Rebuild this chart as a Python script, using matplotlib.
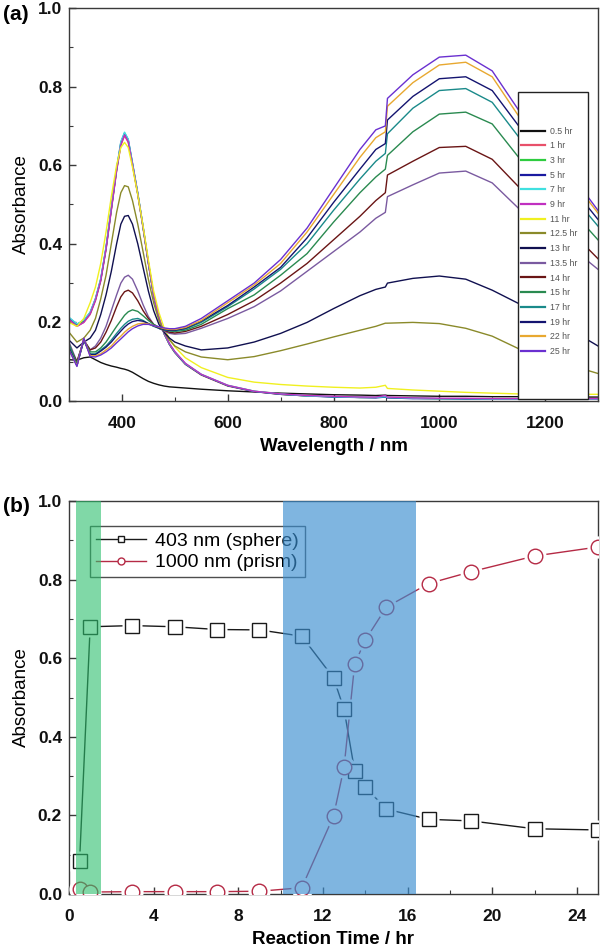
import matplotlib
matplotlib.use("Agg")
import matplotlib.pyplot as plt
from matplotlib.patches import Rectangle
from matplotlib.ticker import MultipleLocator, FormatStrFormatter

plt.rcParams['font.family'] = ['Liberation Sans', 'DejaVu Sans']

# ---------------- Panel (a) data: UV-vis-NIR spectra ----------------
wavelength = [300, 315, 328, 340, 350, 360, 370, 380, 390, 398, 405, 412, 420, 430, 440, 450,
              460, 470, 480, 490, 500, 520, 550, 600, 650, 700, 750, 800, 850, 880, 898, 902,
              950, 1000, 1050, 1100, 1150, 1200, 1250, 1300]

labels_a = ['0.5 hr', '1 hr', '3 hr', '5 hr', '7 hr', '9 hr', '11 hr', '12.5 hr', '13 hr',
            '13.5 hr', '14 hr', '15 hr', '17 hr', '19 hr', '22 hr', '25 hr']
colors_a = ['#111111', '#e8506a', '#2ecc40', '#1a1aa0', '#40e0e0', '#c030c0', '#f0f020',
            '#8a8a2a', '#101050', '#7a5aa0', '#6a1515', '#2a8a50', '#1a8a8a', '#141470',
            '#e8a830', '#6a30d0']

s_0_5 = [0.105, 0.104, 0.110, 0.112, 0.105, 0.098, 0.093, 0.089, 0.086, 0.083, 0.081, 0.078, 0.073, 0.065,
         0.057, 0.050, 0.045, 0.041, 0.038, 0.036, 0.035, 0.033, 0.030, 0.026, 0.023, 0.020, 0.018, 0.016,
         0.015, 0.014, 0.015, 0.014, 0.013, 0.012, 0.012, 0.011, 0.011, 0.010, 0.010, 0.010]
s_1 = [0.205, 0.19, 0.20, 0.22, 0.255, 0.305, 0.385, 0.485, 0.585, 0.65, 0.675, 0.658, 0.60, 0.525, 0.44,
       0.35, 0.267, 0.21, 0.17, 0.143, 0.123, 0.093, 0.066, 0.038, 0.024, 0.017, 0.013, 0.011, 0.009, 0.009,
       0.012, 0.009, 0.007, 0.006, 0.006, 0.005, 0.005, 0.006, 0.006, 0.006]
s_3 = [0.21, 0.193, 0.203, 0.223, 0.258, 0.308, 0.388, 0.488, 0.588, 0.655, 0.68, 0.662, 0.603, 0.527,
       0.442, 0.352, 0.268, 0.211, 0.171, 0.144, 0.124, 0.094, 0.067, 0.039, 0.025, 0.017, 0.013, 0.011,
       0.009, 0.009, 0.011, 0.009, 0.007, 0.006, 0.006, 0.005, 0.005, 0.005, 0.005, 0.005]
s_5 = [0.212, 0.195, 0.205, 0.225, 0.26, 0.31, 0.39, 0.49, 0.59, 0.658, 0.682, 0.665, 0.605, 0.528, 0.443,
       0.352, 0.268, 0.211, 0.171, 0.144, 0.124, 0.094, 0.067, 0.039, 0.024, 0.017, 0.013, 0.010, 0.009,
       0.008, 0.010, 0.008, 0.006, 0.006, 0.005, 0.005, 0.005, 0.005, 0.005, 0.005]
s_7 = [0.213, 0.196, 0.206, 0.226, 0.261, 0.312, 0.392, 0.492, 0.592, 0.66, 0.684, 0.666, 0.606, 0.53,
       0.445, 0.354, 0.27, 0.212, 0.172, 0.145, 0.125, 0.095, 0.068, 0.04, 0.025, 0.018, 0.013, 0.011,
       0.009, 0.009, 0.011, 0.009, 0.007, 0.006, 0.006, 0.005, 0.005, 0.005, 0.005, 0.005]
s_9 = [0.208, 0.19, 0.2, 0.222, 0.257, 0.307, 0.387, 0.487, 0.587, 0.652, 0.677, 0.66, 0.602, 0.527, 0.443,
       0.353, 0.27, 0.213, 0.173, 0.146, 0.126, 0.096, 0.068, 0.04, 0.025, 0.018, 0.014, 0.012, 0.010,
       0.010, 0.014, 0.010, 0.008, 0.007, 0.007, 0.006, 0.006, 0.006, 0.006, 0.006]
s_11 = [0.20, 0.19, 0.21, 0.25, 0.29, 0.35, 0.43, 0.52, 0.60, 0.645, 0.658, 0.645, 0.595, 0.525, 0.445,
        0.36, 0.28, 0.225, 0.185, 0.158, 0.138, 0.11, 0.085, 0.06, 0.048, 0.042, 0.038, 0.035, 0.033,
        0.035, 0.040, 0.032, 0.028, 0.025, 0.022, 0.020, 0.018, 0.018, 0.017, 0.017]
s_12_5 = [0.175, 0.15, 0.16, 0.18, 0.21, 0.26, 0.32, 0.40, 0.48, 0.53, 0.548, 0.545, 0.51, 0.45, 0.38,
          0.31, 0.25, 0.205, 0.175, 0.155, 0.14, 0.125, 0.112, 0.105, 0.113, 0.128, 0.145, 0.163, 0.18,
          0.19, 0.198, 0.198, 0.20, 0.197, 0.185, 0.165, 0.133, 0.11, 0.09, 0.07]
s_13 = [0.155, 0.135, 0.15, 0.16, 0.18, 0.22, 0.27, 0.33, 0.40, 0.45, 0.47, 0.472, 0.45, 0.40, 0.34, 0.28,
        0.23, 0.195, 0.175, 0.16, 0.15, 0.14, 0.13, 0.135, 0.15, 0.172, 0.20, 0.235, 0.268, 0.284, 0.29,
        0.30, 0.312, 0.318, 0.31, 0.282, 0.248, 0.215, 0.18, 0.14]
s_13_5 = [0.15, 0.10, 0.155, 0.13, 0.14, 0.16, 0.19, 0.23, 0.27, 0.30, 0.315, 0.32, 0.31, 0.28, 0.245,
          0.215, 0.195, 0.185, 0.178, 0.172, 0.17, 0.172, 0.185, 0.21, 0.24, 0.28, 0.33, 0.38, 0.43,
          0.465, 0.48, 0.52, 0.55, 0.58, 0.585, 0.555, 0.49, 0.44, 0.39, 0.335]
s_14 = [0.14, 0.10, 0.155, 0.13, 0.135, 0.15, 0.175, 0.205, 0.24, 0.265, 0.278, 0.282, 0.275, 0.255, 0.23,
        0.21, 0.195, 0.185, 0.18, 0.175, 0.173, 0.177, 0.19, 0.22, 0.255, 0.30, 0.35, 0.41, 0.47, 0.51,
        0.53, 0.575, 0.61, 0.645, 0.648, 0.615, 0.545, 0.49, 0.43, 0.362]
s_15 = [0.145, 0.095, 0.155, 0.125, 0.125, 0.135, 0.15, 0.17, 0.19, 0.205, 0.218, 0.227, 0.232, 0.228,
        0.217, 0.205, 0.195, 0.188, 0.182, 0.178, 0.177, 0.18, 0.195, 0.235, 0.27, 0.32, 0.375, 0.455,
        0.53, 0.57, 0.59, 0.625, 0.685, 0.73, 0.735, 0.705, 0.62, 0.555, 0.485, 0.41]
s_17 = [0.14, 0.09, 0.155, 0.12, 0.12, 0.13, 0.14, 0.155, 0.172, 0.185, 0.195, 0.203, 0.208, 0.21, 0.205,
        0.197, 0.19, 0.185, 0.181, 0.179, 0.179, 0.183, 0.2, 0.24, 0.285, 0.335, 0.40, 0.485, 0.565, 0.61,
        0.63, 0.68, 0.745, 0.79, 0.795, 0.76, 0.672, 0.60, 0.525, 0.445]
s_19 = [0.135, 0.09, 0.155, 0.118, 0.118, 0.127, 0.137, 0.15, 0.166, 0.178, 0.188, 0.196, 0.202, 0.205,
        0.203, 0.197, 0.191, 0.186, 0.182, 0.18, 0.18, 0.185, 0.203, 0.243, 0.29, 0.34, 0.415, 0.505,
        0.59, 0.64, 0.655, 0.715, 0.775, 0.82, 0.825, 0.79, 0.70, 0.625, 0.545, 0.462]
s_22 = [0.13, 0.09, 0.16, 0.115, 0.115, 0.12, 0.13, 0.14, 0.155, 0.165, 0.175, 0.183, 0.19, 0.196, 0.198,
        0.196, 0.192, 0.188, 0.184, 0.182, 0.182, 0.187, 0.205, 0.25, 0.295, 0.35, 0.43, 0.525, 0.62,
        0.67, 0.685, 0.75, 0.81, 0.855, 0.862, 0.825, 0.725, 0.645, 0.565, 0.478]
s_25 = [0.13, 0.088, 0.16, 0.113, 0.112, 0.117, 0.125, 0.135, 0.148, 0.158, 0.167, 0.176, 0.184, 0.191,
        0.195, 0.195, 0.192, 0.189, 0.186, 0.184, 0.184, 0.19, 0.21, 0.255, 0.30, 0.36, 0.44, 0.54, 0.64,
        0.69, 0.70, 0.77, 0.83, 0.875, 0.88, 0.84, 0.74, 0.66, 0.575, 0.485]

spectra = [s_0_5, s_1, s_3, s_5, s_7, s_9, s_11, s_12_5, s_13, s_13_5, s_14, s_15, s_17, s_19, s_22, s_25]

# ---------------- Panel (b) data: kinetics ----------------
time_hr = [0.5, 1, 3, 5, 7, 9, 11, 12.5, 13, 13.5, 14, 15, 17, 19, 22, 25]
abs_403 = [0.083, 0.68, 0.683, 0.68, 0.673, 0.672, 0.656, 0.55, 0.47, 0.313, 0.272, 0.216, 0.19, 0.186,
           0.166, 0.163]
abs_1000 = [0.012, 0.005, 0.006, 0.006, 0.006, 0.007, 0.016, 0.198, 0.323, 0.585, 0.646, 0.73, 0.79,
            0.82, 0.86, 0.883]
green_band = (0.33, 1.5)
blue_band = (10.1, 16.4)

W, H = 600, 949
fig = plt.figure(figsize=(W / 100, H / 100), dpi=100)

def ax_rect(l, t, r, b):
    return [l / W, 1 - b / H, (r - l) / W, (b - t) / H]

spine_c = '#3a3a3a'

def style_axes(ax):
    for s in ax.spines.values():
        s.set_color(spine_c)
        s.set_linewidth(1.0)
    ax.tick_params(which='both', direction='in', colors=spine_c, top=False, right=False)
    ax.tick_params(which='major', length=5, width=1.0, labelsize=12.5)
    ax.tick_params(axis='x', which='major', pad=11)
    ax.tick_params(axis='y', which='major', pad=5)
    ax.tick_params(which='minor', length=3, width=0.8)
    for lab in ax.get_xticklabels() + ax.get_yticklabels():
        lab.set_fontweight('bold')
        lab.set_color('#111111')

# ---------- (a) ----------
axa = fig.add_axes(ax_rect(69, 8, 598, 401))
for y, c, lab in zip(spectra, colors_a, labels_a):
    axa.plot(wavelength, y, color=c, lw=1.0, label=lab)
axa.set_xlim(300, 1300)
axa.set_ylim(0, 1.0)
axa.xaxis.set_major_locator(MultipleLocator(200))
axa.xaxis.set_minor_locator(MultipleLocator(100))
axa.yaxis.set_major_locator(MultipleLocator(0.2))
axa.yaxis.set_minor_locator(MultipleLocator(0.1))
axa.yaxis.set_major_formatter(FormatStrFormatter('%.1f'))
style_axes(axa)
axa.set_xlabel('Wavelength / nm', fontsize=13.5, fontweight='bold', labelpad=5)
axa.set_ylabel('Absorbance', fontsize=13.5, labelpad=6)

# legend frame (tall box) and legend entries
frame = Rectangle((0.849, 0.004), 0.132, 0.782, transform=axa.transAxes, facecolor='white',
                  edgecolor='#222222', lw=1.0, zorder=4)
axa.add_patch(frame)
lega = axa.legend(loc='upper left', bbox_to_anchor=(0.855, 0.698), frameon=False, fontsize=6.3,
                  handlelength=2.7, handletextpad=0.55, labelspacing=0.65, borderpad=0,
                  borderaxespad=0)
for t in lega.get_texts():
    t.set_color('#555555')
for h in lega.legend_handles:
    h.set_linewidth(1.6)
lega.set_zorder(6)

fig.text(3 / W, 1 - 20 / H, '(a)', fontsize=15, fontweight='bold', ha='left', va='baseline')

# ---------- (b) ----------
axb = fig.add_axes(ax_rect(69, 501, 598, 894))
line_c = '#1a1a1a'
red_c = '#b52a45'
axb.plot(time_hr, abs_403, color=line_c, lw=1.0, zorder=2)
axb.plot(time_hr, abs_1000, color=red_c, lw=1.0, zorder=2)
# white gaps around symbols (line stops short of the symbol)
axb.plot(time_hr, abs_403, ls='none', marker='s', ms=15, mfc='white', mec='none', zorder=3)
axb.plot(time_hr, abs_1000, ls='none', marker='o', ms=16, mfc='white', mec='none', zorder=3)
axb.plot(time_hr, abs_403, ls='none', marker='s', ms=9.5, mfc='white', mec=line_c, mew=1.0, zorder=4)
axb.plot(time_hr, abs_1000, ls='none', marker='o', ms=10.5, mfc='white', mec=red_c, mew=1.0, zorder=4)

h1, = axb.plot([], [], color=line_c, lw=1.0, marker='s', ms=5, mfc='white', mec=line_c)
h2, = axb.plot([], [], color=red_c, lw=1.0, marker='o', ms=5, mfc='white', mec=red_c)
legb = axb.legend([h1, h2], ['403 nm (sphere)', '1000 nm (prism)'], loc='upper left',
                  bbox_to_anchor=(0.0397, 0.936), fontsize=14, handlelength=2.6,
                  handletextpad=0.45, labelspacing=0.22, borderpad=0.3, borderaxespad=0,
                  fancybox=False, edgecolor='#222222')
legb.get_frame().set_facecolor('none')
legb.get_frame().set_linewidth(1.0)
legb.set_zorder(5)

axb.axvspan(*green_band, facecolor='#2cbf6d', alpha=0.6, lw=0, zorder=10)
axb.axvspan(*blue_band, facecolor='#3a8ed0', alpha=0.65, lw=0, zorder=10)

axb.set_xlim(0, 25)
axb.set_ylim(0, 1.0)
axb.xaxis.set_major_locator(MultipleLocator(4))
axb.xaxis.set_minor_locator(MultipleLocator(2))
axb.yaxis.set_major_locator(MultipleLocator(0.2))
axb.yaxis.set_minor_locator(MultipleLocator(0.1))
axb.yaxis.set_major_formatter(FormatStrFormatter('%.1f'))
style_axes(axb)
axb.set_xlabel('Reaction Time / hr', fontsize=13.5, fontweight='bold', labelpad=5)
axb.set_ylabel('Absorbance', fontsize=13.5, labelpad=6)

fig.text(3 / W, 1 - 512 / H, '(b)', fontsize=15, fontweight='bold', ha='left', va='baseline')

fig.savefig('out.png', dpi=100)
